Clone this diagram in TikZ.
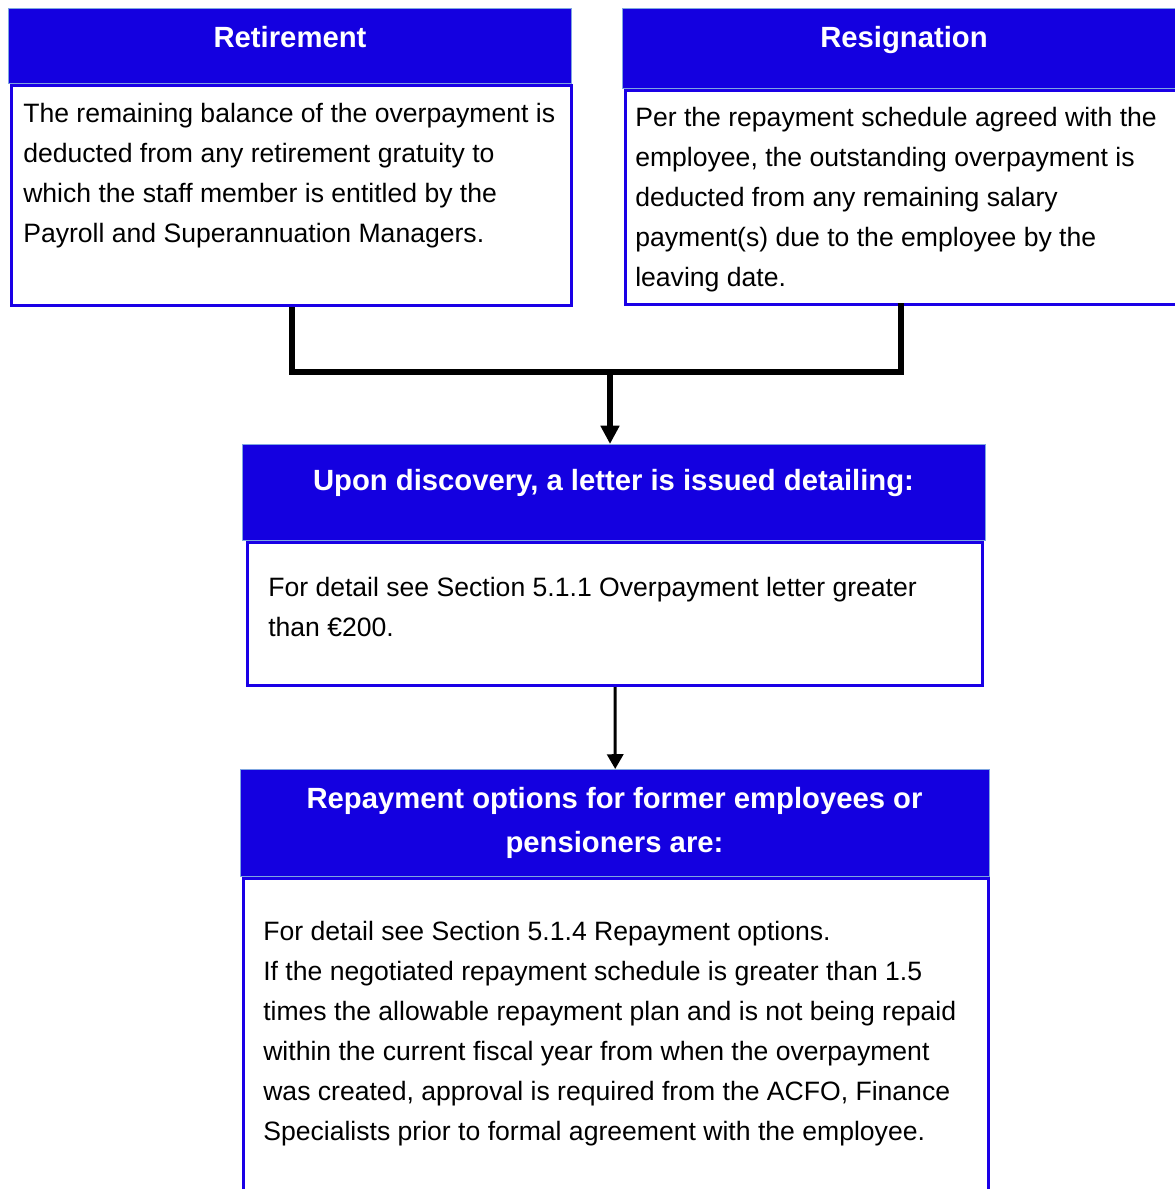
\documentclass[tikz,border=0pt]{standalone}
\usepackage{fontspec}
\setmainfont{Liberation Sans}
\usetikzlibrary{arrows.meta}
\definecolor{headfill}{HTML}{1400E0}
\definecolor{headline}{HTML}{7FA6E0}
\definecolor{bodyline}{HTML}{1A00E6}
\newcommand{\pxu}{0.025cm}
\tikzset{
  vhead/.style={draw=headline,fill=headfill,line width=1pt,anchor=north west,inner sep=0pt},
  vbody/.style={draw=bodyline,fill=white,line width=2.2pt,anchor=north west,inner sep=0pt},
  vtitle/.style={text=white,font=\fontsize{20.8}{31.3}\selectfont\bfseries,align=center,inner sep=0pt},
  vtext/.style={text=black,font=\fontsize{18.9}{28.45}\selectfont,align=left,anchor=north west,inner sep=0pt},
  vjoin/.style={line width=4.2pt,draw=black},
  varr/.style={-{Triangle[width=12.8pt,length=13pt]},line width=3.6pt,draw=black},
  vthin/.style={-{Triangle[width=11.5pt,length=10.5pt]},line width=2.1pt,draw=black}
}
\begin{document}
\begin{tikzpicture}[x=0.025cm,y=-0.025cm]
  \useasboundingbox (0,0) rectangle (1175,1189);
  \clip (0,0) rectangle (1175,1189);
  % retirement
  \node[vbody,minimum width={560*\pxu},minimum height={220*\pxu}] (retbody) at (10,84) {};
  \node[vhead,minimum width={563*\pxu},minimum height={75*\pxu}] (rethead) at (8,8) {};
  \node[vtitle,anchor=base] (rettitle) at (290,47.5) {Retirement};
  \node[vtext] (rettext) at (23,103) {The remaining balance of the overpayment is\\
    deducted from any retirement gratuity to\\
    which the staff member is entitled by the\\
    Payroll and Superannuation Managers.};
  % resignation
  \node[vbody,minimum width={563*\pxu},minimum height={214*\pxu}] (resbody) at (624,89) {};
  \node[vhead,minimum width={565*\pxu},minimum height={80*\pxu}] (reshead) at (622,8) {};
  \node[vtitle,anchor=base] (restitle) at (904,47.5) {Resignation};
  \node[vtext] (restext) at (635,107) {Per the repayment schedule agreed with the\\
    employee, the outstanding overpayment is\\
    deducted from any remaining salary\\
    payment(s) due to the employee by the\\
    leaving date.};
  % letter
  \node[vbody,minimum width={735*\pxu},minimum height={143*\pxu}] (upobody) at (246,541) {};
  \node[vhead,minimum width={743*\pxu},minimum height={96*\pxu}] (upohead) at (242,444) {};
  \node[vtitle,anchor=base] (upotitle) at (613.5,490.5) {Upon discovery, a letter is issued detailing:};
  \node[vtext] (upotext) at (268,577) {For detail see Section 5.1.1 Overpayment letter greater\\
    than €200.};
  % repayment
  \node[vbody,minimum width={745*\pxu},minimum height={330*\pxu}] (repbody) at (242,877) {};
  \node[vhead,minimum width={749*\pxu},minimum height={107*\pxu}] (rephead) at (240,769) {};
  \node[vtitle,anchor=north] (reptitle) at (614.5,787.5) {Repayment options for former employees or\\ pensioners are:};
  \node[vtext] (reptext) at (263,921) {For detail see Section 5.1.4 Repayment options.\\
    If the negotiated repayment schedule is greater than 1.5\\
    times the allowable repayment plan and is not being repaid\\
    within the current fiscal year from when the overpayment\\
    was created, approval is required from the ACFO, Finance\\
    Specialists prior to formal agreement with the employee.};
  % connectors
  \coordinate (join) at (610,372);
  \coordinate (resfoot) at (901,303);
  \draw[vjoin] (retbody.south) |- (join);
  \draw[vjoin] (resfoot) |- (join);
  \draw[varr] (join) -- (join |- upohead.north);
  \draw[vthin] (upobody.south) -- (rephead.north);
\end{tikzpicture}
\end{document}
